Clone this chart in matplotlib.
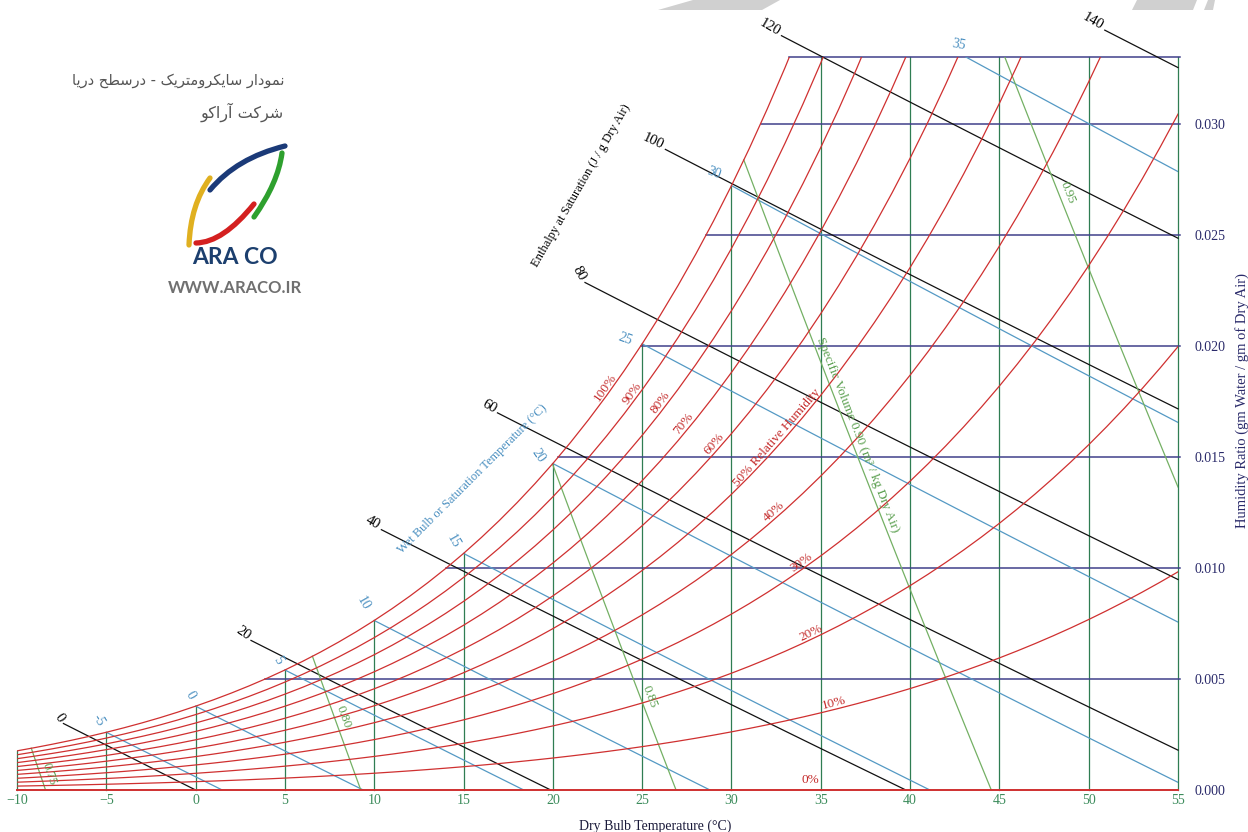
import numpy as np
import matplotlib
matplotlib.use("Agg")
import matplotlib.pyplot as plt
from matplotlib.path import Path
from matplotlib.patches import PathPatch, Polygon

plt.rcParams['font.family'] = ['Liberation Serif', 'DejaVu Serif']

P_ATM = 101.325  # kPa, sea level

# saturation vapour pressure of water (kPa), 1 C steps
t_table = [-10, -9, -8, -7, -6, -5, -4, -3, -2, -1,
           0, 1, 2, 3, 4, 5, 6, 7, 8, 9,
           10, 11, 12, 13, 14, 15, 16, 17, 18, 19,
           20, 21, 22, 23, 24, 25, 26, 27, 28, 29,
           30, 31, 32, 33, 34, 35, 36, 37, 38, 39,
           40, 41, 42, 43, 44, 45, 46, 47, 48, 49,
           50, 51, 52, 53, 54, 55]
ps_table = [0.2863, 0.3100, 0.3352, 0.3620, 0.3906, 0.4215, 0.4546, 0.4898, 0.5274, 0.5678,
            0.6112, 0.6571, 0.7060, 0.7581, 0.8135, 0.8726, 0.9354, 1.0021, 1.0730, 1.1482,
            1.2282, 1.3129, 1.4028, 1.4981, 1.5989, 1.7057, 1.8188, 1.9383, 2.0647, 2.1982,
            2.3392, 2.4881, 2.6452, 2.8109, 2.9856, 3.1697, 3.3637, 3.5679, 3.7828, 4.0089,
            4.2467, 4.4966, 4.7592, 5.0351, 5.3247, 5.6286, 5.9475, 6.2818, 6.6324, 6.9997,
            7.3844, 7.7873, 8.2090, 8.6503, 9.1118, 9.5944, 10.099, 10.626, 11.177, 11.751,
            12.351, 12.977, 13.629, 14.308, 15.016, 15.752]

rh_levels = [10, 20, 30, 40, 50, 60, 70, 80, 90, 100]
rh_labels = ['10%', '20%', '30%', '40%', '50% Relative Humidity',
             '60%', '70%', '80%', '90%', '100%']
rh_label_t = [35.8, 34.6, 34.1, 32.6, 32.8, 29.3, 27.6, 26.3, 24.7, 23.2]

wb_temps = [-5, 0, 5, 10, 15, 20, 25, 30, 35]
enth_vals = [0, 20, 40, 60, 80, 100, 120, 140]
enth_start_t = [-7.4, 3.1, 10.4, 16.9, 21.8, 26.3, 32.8, 50.9]
sv_vals = [0.75, 0.80, 0.85, 0.90, 0.95]
sv_labels = ['0.75', '0.80', '0.85', 'Specific Volume 0.90 (m³ / kg Dry Air)', '0.95']
sv_label_w = [0.0007, 0.0033, 0.0042, 0.0160, 0.0269]

db_ticks = [-10, -5, 0, 5, 10, 15, 20, 25, 30, 35, 40, 45, 50, 55]
w_ticks = [0.000, 0.005, 0.010, 0.015, 0.020, 0.025, 0.030]
w_top = 0.033

# label styles
wb_rot = [-60, -60, -60, -60, -60, -55, -20, -20, -10]
wb_off = [(-8, 12), (-5, 11), (-7, 10), (-11, 17), (-10, 12), (-15, 8), (-17, 5), (-18, 13), (-7, 12)]
enth_rot = [-55, -35, -30, -30, -60, -25, -30, -30]

RED = '#cf3030'
NAVY = '#40408a'
VGREEN = '#2f7d52'
WBC = '#5499c4'
SVC = '#74b064'

T = np.array(t_table, float)
ps = np.array(ps_table)
ws = 0.622 * ps / (P_ATM - ps)
v_sat = 0.287042 * (T + 273.15) * (1 + 1.6078 * ws) / P_ATM


def ws_at(t):
    return np.interp(t, T, ws)


def t_sat(w):
    return np.interp(w, ws, T)


fig = plt.figure(figsize=(12.48, 8.32), dpi=100)
ax = fig.add_axes([17 / 1248, 42 / 832, 1161 / 1248, 733 / 832])
ax.set_xlim(-10, 55)
ax.set_ylim(0, w_top)
for s in ax.spines.values():
    s.set_visible(False)


def angle(t1, w1, t2, w2):
    p = ax.transData.transform([(t1, w1), (t2, w2)])
    return np.degrees(np.arctan2(p[1, 1] - p[0, 1], p[1, 0] - p[0, 0]))


# grid: vertical dry bulb lines and horizontal humidity lines
for t in db_ticks:
    ax.plot([t, t], [0, min(ws_at(t), w_top)], color=VGREEN, lw=0.9, clip_on=False, zorder=1)
for w in w_ticks[1:] + [w_top]:
    ax.plot([t_sat(w), 55.1], [w, w], color=NAVY, lw=1.1, clip_on=False, zorder=1)

# relative humidity curves
for rh, lab, lt in zip(rh_levels, rh_labels, rh_label_t):
    pv = rh / 100 * ps
    w = 0.622 * pv / (P_ATM - pv)
    ax.plot(T, w, color=RED, lw=0.9, zorder=3)
    pl = rh / 100 * np.interp(lt, T, ps)
    wl = 0.622 * pl / (P_ATM - pl)
    pl2 = rh / 100 * np.interp(lt + 0.5, T, ps)
    wl2 = 0.622 * pl2 / (P_ATM - pl2)
    ax.text(lt, wl, lab, color='#c42a2a', fontsize=9.5, rotation=angle(lt, wl, lt + 0.5, wl2),
            rotation_mode='anchor', ha='center', va='bottom', zorder=5)
ax.plot([-10, 55], [0, 0], color=RED, lw=1.4, clip_on=False, zorder=3)
ax.text(34.4, 0.0002, '0%', color='#c42a2a', fontsize=9.5, ha='center', va='bottom')

# wet bulb lines
for twb, rot, off in zip(wb_temps, wb_rot, wb_off):
    wsw = ws_at(twb)
    a = (2501 - 2.326 * twb) * wsw
    t0 = twb
    if wsw > w_top:
        t0 = (a + 1.006 * twb - w_top * (2501 - 4.186 * twb)) / (1.86 * w_top + 1.006)
    t1 = min(twb + a / 1.006, 55)
    tt = np.linspace(t0, t1, 40)
    ww = (a - 1.006 * (tt - twb)) / (2501 + 1.86 * tt - 4.186 * twb)
    ax.plot(tt, ww, color=WBC, lw=0.9, zorder=2)
    ax.annotate(str(twb), (tt[0], ww[0]), xytext=off, textcoords='offset pixels',
                color='#4a8fc0', fontsize=10, rotation=rot, ha='center', va='center')

# enthalpy lines
for h, t0, rot in zip(enth_vals, enth_start_t, enth_rot):
    t1 = min(h / 1.006, 55)
    tt = np.linspace(t0, t1, 40)
    ww = (h - 1.006 * tt) / (2501 + 1.86 * tt)
    ax.plot(tt, ww, color='#111111', lw=0.9, clip_on=False, zorder=2)
    ax.annotate(str(h), (tt[0], ww[0]), xytext=(-2, 3), textcoords='offset pixels',
                fontsize=10.5, rotation=rot, rotation_mode='anchor', ha='right', va='center',
                annotation_clip=False)

# specific volume lines
for v, lab, lw_ in zip(sv_vals, sv_labels, sv_label_w):
    t_s = np.interp(v, v_sat, T)
    t_c = v * P_ATM / (0.287042 * (1 + 1.6078 * w_top)) - 273.15
    t0 = max(t_s, t_c)
    t1 = min(v * P_ATM / 0.287042 - 273.15, 55)
    tt = np.linspace(t0, t1, 40)
    ww = (v * P_ATM / (0.287042 * (tt + 273.15)) - 1) / 1.6078
    ax.plot(tt, ww, color=SVC, lw=0.9, zorder=2)
    tl = v * P_ATM / (0.287042 * (1 + 1.6078 * lw_)) - 273.15
    tl2 = v * P_ATM / (0.287042 * (1 + 1.6078 * (lw_ - 0.001))) - 273.15
    rot = angle(tl, lw_, tl2, lw_ - 0.001)
    ax.annotate(lab, (tl, lw_), xytext=(9, 0), textcoords='offset pixels', color='#5a9f4f',
                fontsize=9.5, rotation=rot, rotation_mode='anchor', ha='center', va='center')

# axis labels and ticks
ax.set_xticks(db_ticks)
ax.tick_params(axis='x', length=0, pad=3, labelsize=10, labelcolor='#3c8c5c')
ax.yaxis.tick_right()
ax.set_yticks(w_ticks)
ax.set_yticklabels(['%.3f' % w for w in w_ticks])
ax.tick_params(axis='y', length=0, pad=12, labelsize=10, labelcolor='#2a2a6a')

fig.text(655 / 1248, 1 - 826 / 832, 'Dry Bulb Temperature (°C)', fontsize=10,
         color='#1a1a3a', ha='center', va='center')
fig.text(1242 / 1248, 1 - 400 / 832, 'Humidity Ratio (gm Water / gm of Dry Air)', fontsize=10.5,
         color='#2a2a6a', rotation=90, ha='center', va='center')
ax.text(15.5, 0.0140, 'Wet Bulb or Saturation Temperature (°C)', color='#4a8fc0', fontsize=9,
        rotation=45, ha='center', va='center')
ax.text(21.6, 0.0272, 'Enthalpy at Saturation (J / g Dry Air)', fontsize=9,
        rotation=60, ha='center', va='center')

# overlay in pixel coordinates: logo, title, watermark bits
ov = fig.add_axes([0, 0, 1, 1])
ov.set_xlim(0, 1248)
ov.set_ylim(832, 0)
ov.axis('off')

FORMS = {
    'ا': ('\uFE8D', '\uFE8E', None, None),
    'آ': ('\uFE81', '\uFE82', None, None),
    'ت': ('\uFE95', '\uFE96', '\uFE97', '\uFE98'),
    'ح': ('\uFEA1', '\uFEA2', '\uFEA3', '\uFEA4'),
    'د': ('\uFEA9', '\uFEAA', None, None),
    'ر': ('\uFEAD', '\uFEAE', None, None),
    'س': ('\uFEB1', '\uFEB2', '\uFEB3', '\uFEB4'),
    'ش': ('\uFEB5', '\uFEB6', '\uFEB7', '\uFEB8'),
    'ط': ('\uFEC1', '\uFEC2', '\uFEC3', '\uFEC4'),
    'م': ('\uFEE1', '\uFEE2', '\uFEE3', '\uFEE4'),
    'ن': ('\uFEE5', '\uFEE6', '\uFEE7', '\uFEE8'),
    'و': ('\uFEED', '\uFEEE', None, None),
    'ک': ('\uFB8E', '\uFB8F', '\uFB90', '\uFB91'),
    'ی': ('\uFBFC', '\uFBFD', '\uFBFE', '\uFBFF'),
}


def shape_fa(s):
    # join the letters and put them in visual order
    out = []
    for i, ch in enumerate(s):
        f = FORMS.get(ch)
        if f is None:
            out.append(ch)
            continue
        prev = s[i - 1] if i > 0 else ''
        nxt = s[i + 1] if i + 1 < len(s) else ''
        jp = prev in FORMS and FORMS[prev][2] is not None
        jn = f[2] is not None and nxt in FORMS
        out.append(f[3] if jp and jn else f[1] if jp else f[2] if jn else f[0])
    return ''.join(reversed(out))


ov.text(284, 80, shape_fa('نمودار سایکرومتریک - درسطح دریا'), family=['DejaVu Sans'],
        fontsize=10.5, color='#555555', ha='right', va='center')
ov.text(284, 112, shape_fa('شرکت آراکو'), family=['DejaVu Sans'],
        fontsize=11.5, color='#555555', ha='right', va='center')


def arc(p0, mid, p2, color):
    p1 = (2 * mid[0] - 0.5 * (p0[0] + p2[0]), 2 * mid[1] - 0.5 * (p0[1] + p2[1]))
    path = Path([p0, p1, p2], [Path.MOVETO, Path.CURVE3, Path.CURVE3])
    ov.add_patch(PathPatch(path, fill=False, ec=color, lw=3.8, capstyle='round'))


arc((210, 190), (242, 163), (285, 146), '#1b3a78')
arc((282, 153), (273, 184), (254, 217), '#2ea02e')
arc((210, 178), (195, 208), (189, 245), '#e0b020')
arc((196, 243), (224, 233), (254, 204), '#d42020')
ov.text(235, 258, 'ARA CO', family=['Lato', 'DejaVu Sans'], fontweight='bold', fontsize=16.5,
        color='#1c3f6e', ha='center', va='center')
ov.text(235, 288, 'WWW.ARACO.IR', family=['Lato', 'DejaVu Sans'], fontweight='bold', fontsize=12,
        color='#707070', ha='center', va='center')

for pts in [[(658, 10), (693, 0), (780, 0), (762, 10)],
            [(1132, 10), (1137, 0), (1197, 0), (1193, 10)],
            [(1204, 10), (1208, 0), (1215, 0), (1213, 10)]]:
    ov.add_patch(Polygon(pts, closed=True, fc='#d0d0d0', ec='none'))

fig.savefig('out.png', dpi=100)
